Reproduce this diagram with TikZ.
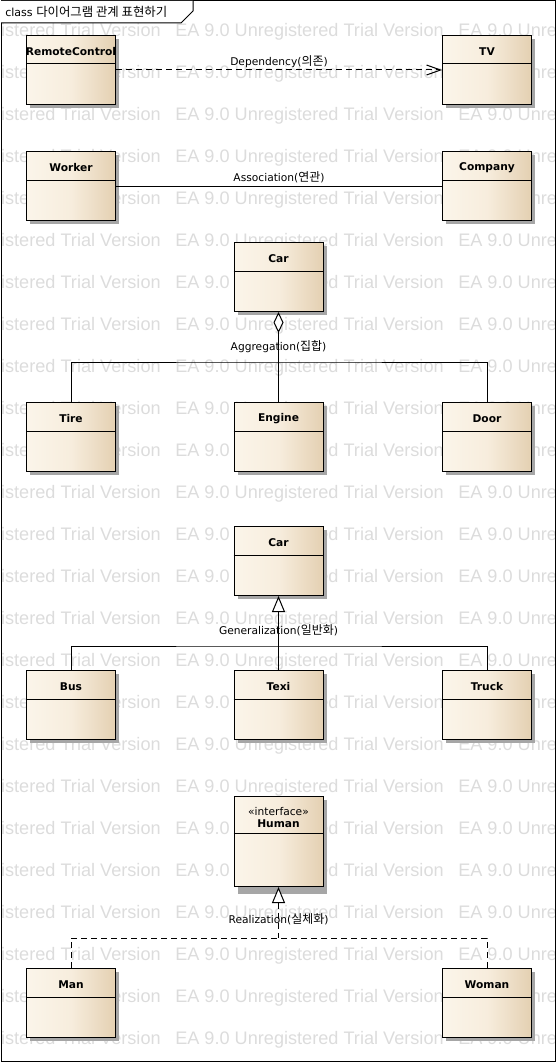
\documentclass[tikz,border=0pt]{standalone}
\usepackage{fontspec}
\setmainfont{DejaVu Sans}
\newfontfamily\krfont[Scale=1.12]{Noto Sans CJK KR}
\newfontfamily\wmfont{Liberation Sans}
\usetikzlibrary{calc,arrows.meta}
\definecolor{eaL}{HTML}{FBF5EA}
\definecolor{eaM}{HTML}{F7EDDD}
\definecolor{eaR}{HTML}{E4D0B2}
\definecolor{wmgray}{HTML}{DCDCDC}
\definecolor{shadowc}{HTML}{A6A6A6}
\newcommand\kr[1]{{\krfont #1}}
\newcommand\umlcls[6]{%
  \fill[shadowc] ({#2+4},{#3+4}) rectangle ({#2+93},{#3+#4+4});
  \fill[eaL] (#2,#3) rectangle ({#2+89},{#3+#4});
  \node[clsbox, minimum height=#4*0.75pt, anchor=north west] (#1) at (#2,#3) {};
  \draw[sepline] ($(#1.north west)+(0,#5)$) -- ($(#1.north east)+(0,#5)$);
  \node[clsname] (#1-name) at ($(#1.north)+(0,16.5)$) {#6};
}
\begin{document}
\begin{tikzpicture}[x=0.75pt, y=-0.75pt,
  clsbox/.style={draw=black, line width=0.75pt, minimum width=66.75pt, inner sep=0pt,
    left color=eaL, right color=eaR, middle color=eaM},
  sepline/.style={draw=black, line width=0.75pt},
  clsname/.style={font=\bfseries\fontsize{8pt}{9.6pt}\selectfont, inner sep=0pt},
  lbl/.style={font=\fontsize{8pt}{9.6pt}\selectfont, inner sep=0pt},
  conn/.style={draw=black, line width=0.75pt},
  dashconn/.style={conn, dash pattern=on 4.5pt off 3pt},
  wm/.style={font=\wmfont\fontsize{13.6pt}{15pt}\selectfont, text=wmgray, inner sep=0pt, anchor=west},
  frameline/.style={draw=black, line width=0.75pt}]
\useasboundingbox (0,0) rectangle (557,1063);
% watermark
\begin{scope}
  \clip (1,1) rectangle (555,1061);
  \foreach \r in {0,...,24}{
    \foreach \k in {-1,0,1}{
      \node[wm] (wm-\r-\k) at ({175+283*\k},{31.5+42*\r}) {EA 9.0 Unregistered Trial Version};
    }
  }
\end{scope}
% frame
\draw[frameline] (1,1) rectangle (555,1061);
\fill[white] (1,1) -- (193,1) -- (193,11) -- (181,23) -- (1,23) -- cycle;
\draw[frameline] (1,23) -- (181,23) -- (193,11) -- (193,1);
\node[lbl, anchor=west, font=\fontsize{8.3pt}{10pt}\selectfont] (title) at (5,11.5) {class \kr{다이어그램 관계 표현하기}};
% dependency
\umlcls{rc}{26}{35}{69}{29}{RemoteControl}
\umlcls{tv}{442}{35}{69}{29}{TV}
\draw[dashconn, -{Straight Barb[length=10.5pt, width=7.5pt]}] (rc.east) -- (tv.west);
\node[lbl] (deplbl) at ($(rc.east)!0.5!(tv.west)+(0,-8)$) {Dependency(\kr{의존})};
% association
\umlcls{worker}{26}{151}{69}{29}{Worker}
\umlcls{company}{442}{151}{69}{29}{Company}
\draw[conn] (worker.east) -- (company.west);
\node[lbl] (asslbl) at ($(worker.east)!0.5!(company.west)+(0,-9)$) {Association(\kr{연관})};
% aggregation
\umlcls{carA}{233.5}{242}{69}{29}{Car}
\umlcls{tire}{26}{402}{69}{29}{Tire}
\umlcls{engine}{233.5}{402}{69}{29}{Engine}
\umlcls{door}{442}{402}{69}{29}{Door}
\coordinate (aggj) at (carA.south |- 0,362);
\draw[conn, {Diamond[length=15.75pt, width=7.5pt, fill=white]}-] (carA.south) -- (engine.north);
\draw[conn] (tire.north) |- (aggj) -| (door.north);
\node[lbl] (agglbl) at ($(carA.south |- 0,347)$) {Aggregation(\kr{집합})};
% generalization
\umlcls{carB}{233.5}{526}{69}{29}{Car}
\umlcls{bus}{26}{670}{69}{29}{Bus}
\umlcls{texi}{233.5}{670}{69}{29}{Texi}
\umlcls{truck}{442}{670}{69}{29}{Truck}
\coordinate (genj) at (carB.south |- 0,646);
\draw[conn, {Triangle[length=12pt, width=9.75pt, fill=white]}-] (carB.south) -- (texi.north);
\draw[conn] (bus.north) |- (genj) -| (truck.north);
\node[lbl] (genlbl) at ($(carB.south |- 0,630)$) {Generalization(\kr{일반화})};
% realization
\fill[shadowc] (237.5,800) rectangle (326.5,894);
\fill[eaL] (233.5,796) rectangle (322.5,886);
\node[clsbox, minimum height=67.5pt, anchor=north west] (human) at (233.5,796) {};
\draw[sepline] ($(human.north west)+(0,37)$) -- ($(human.north east)+(0,37)$);
\node[lbl, align=center, font=\fontsize{8pt}{9.4pt}\selectfont] (human-name) at ($(human.north)+(0,21.5)$) {«interface»\\\textbf{Human}};
\umlcls{man}{26}{968}{69}{29}{Man}
\umlcls{woman}{442}{968}{69}{29}{Woman}
\coordinate (realj) at (human.south |- 0,938);
\draw[dashconn, {Triangle[length=12pt, width=9.75pt, fill=white]}-] (human.south) -- (realj);
\draw[dashconn] (man.north) |- (realj) -| (woman.north);
\node[lbl] (reallbl) at ($(human.south |- 0,919)$) {Realization(\kr{실체화})};
\end{tikzpicture}
\end{document}
